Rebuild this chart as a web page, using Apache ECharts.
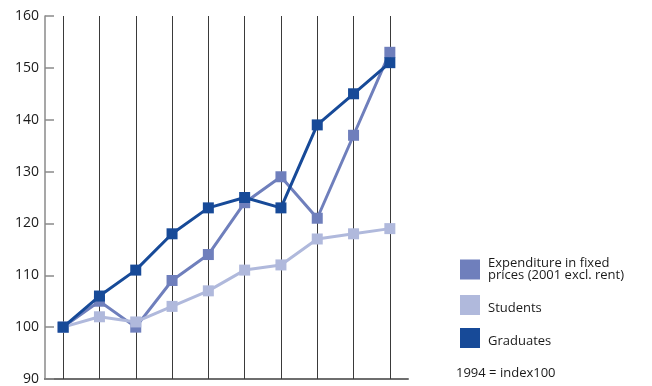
<!DOCTYPE html>
<html>
<head>
<meta charset="utf-8">
<script src="https://cdn.jsdelivr.net/npm/echarts@6/dist/echarts.min.js"></script>
<style>html,body{margin:0;padding:0;background:#fff;}#c{width:652px;height:386px;}</style>
</head>
<body>
<div id="c"></div>
<script>
var categories = ['1994','1995','1996','1997','1998','1999','2000','2001','2002','2003'];
var expenditure = [100, 105, 100, 109, 114, 124, 129, 121, 137, 153];
var students = [100, 102, 101, 104, 107, 111, 112, 117, 118, 119];
var graduates = [100, 106, 111, 118, 123, 125, 123, 139, 145, 151];
var seriesNames = ['Expenditure in fixed\nprices (2001 excl. rent)', 'Students', 'Graduates'];
var noteText = '1994 = index100';

var FONT = 'Open Sans';
var chart = echarts.init(document.getElementById('c'), null, {renderer: 'canvas'});
function mkSeries(name, data, color, z, withLines) {
  var s = {
    name: name, type: 'line', data: data, z: z,
    symbol: 'rect', symbolSize: 11,
    itemStyle: {color: color},
    lineStyle: {color: color, width: 3},
    emphasis: {disabled: true},
    animation: false
  };
  if (withLines) {
    s.markLine = {
      silent: true, symbol: ['none','none'], label: {show: false},
      lineStyle: {color: '#3a3a3a', width: 1, type: 'solid'},
      animation: false,
      z: 1,
      data: categories.map(function(c){ return {xAxis: c}; })
    };
  }
  return s;
}
chart.setOption({
  animation: false,
  grid: {left: 45, right: 244, top: 16, bottom: 7, containLabel: false},
  xAxis: {
    type: 'category', data: categories, boundaryGap: true,
    axisLine: {lineStyle: {color: '#6e6e6e', width: 2}},
    axisTick: {show: false}, axisLabel: {show: false}, splitLine: {show: false}
  },
  yAxis: {
    type: 'value', min: 90, max: 160, interval: 10,
    axisLine: {show: true, lineStyle: {color: '#8a8a8a', width: 1.5}},
    axisTick: {show: true, inside: true, length: 9, lineStyle: {color: '#8a8a8a', width: 1.5}},
    axisLabel: {color: '#1a1a1a', fontFamily: FONT, fontSize: 14, margin: 6},
    splitLine: {show: false}
  },
  legend: {
    orient: 'vertical', left: 460, top: 257, padding: 0,
    itemWidth: 20, itemHeight: 20, itemGap: 13, icon: 'rect',
    selectedMode: false,
    data: seriesNames,
    formatter: function (name) {
      if (name.indexOf('\n') >= 0) {
        return name.split('\n').map(function (l) { return '{m|' + l + '}'; }).join('\n');
      }
      return '{s|' + name + '}';
    },
    textStyle: {
      fontFamily: FONT, fontSize: 13, color: '#1a1a1a', lineHeight: 12,
      rich: {
        m: {fontFamily: FONT, fontSize: 13, color: '#1a1a1a', lineHeight: 12, padding: [0, 0, 0, 3]},
        s: {fontFamily: FONT, fontSize: 13, color: '#1a1a1a', lineHeight: 12, padding: [7, 0, 0, 3]}
      }
    },
    itemStyle: {borderWidth: 0}
  },
  title: {
    text: noteText, left: 456, top: 367,
    textStyle: {fontFamily: FONT, fontSize: 13, fontWeight: 'normal', color: '#1a1a1a'},
    padding: 0
  },
  series: [
    mkSeries(seriesNames[0], expenditure, '#6f7fbc', 3, true),
    mkSeries(seriesNames[1], students, '#b0b9dc', 4, false),
    mkSeries(seriesNames[2], graduates, '#174a98', 5, false)
  ]
});
</script>
</body>
</html>
